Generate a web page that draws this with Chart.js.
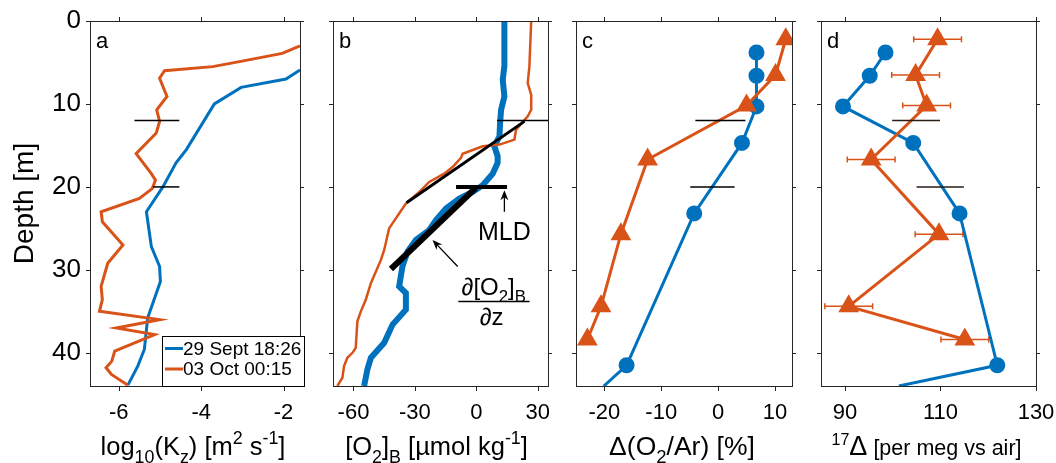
<!DOCTYPE html>
<html>
<head>
<meta charset="utf-8">
<script src="https://cdn.jsdelivr.net/npm/chart.js@4.4.1/dist/chart.umd.min.js"></script>
<style>
html, body { margin: 0; padding: 0; background: #fff; }
#wrap { position: relative; width: 1056px; height: 463px; overflow: hidden; }
#wrap canvas { position: absolute; left: 0; top: 0; }
</style>
</head>
<body>
<div id="wrap">
  <canvas id="panelA" width="1056" height="463"></canvas>
  <canvas id="panelB" width="1056" height="463"></canvas>
  <canvas id="panelC" width="1056" height="463"></canvas>
  <canvas id="panelD" width="1056" height="463"></canvas>
</div>
<script>
const FONT = '"Liberation Sans", Arial, Helvetica, sans-serif';
const BLUE = '#0072BD';
const ORANGE = '#D95319';
const AXIS = '#262626';
const TITLE_SIZE = 25.5;

// shared
const legendLabels = ['29 Sept 18:26', '03 Oct 00:15'];
const mldDepths = [12, 20];
const depthTicks = [0, 10, 20, 30, 40];

// panel a - log10(Kz)
const kzTicks = [-6, -4, -2];
const kzDepthSept = [5.9, 7.0, 8.0, 10.0, 15.5, 17.1, 20.0, 23.0, 27.2, 29.6, 31.4, 35.8, 39.6, 41.6, 43.9];
const kzSept = [-1.6, -1.94, -3.03, -3.68, -4.36, -4.61, -4.93, -5.33, -5.21, -5.01, -4.99, -5.30, -5.38, -5.54, -5.78];
const kzDepthOct = [3.0, 3.9, 4.9, 5.5, 6.0, 6.9, 9.1, 10.7, 12.1, 13.5, 16.0, 18.4, 19.2, 20.2, 21.4, 23.0, 24.2, 27.0, 29.2, 32.0, 33.6, 35.0, 36.0, 37.0, 37.8, 39.8, 41.0, 41.8, 42.6, 43.9];
const kzOct = [-1.6, -2.03, -3.07, -3.72, -4.89, -5.01, -4.83, -5.08, -5.01, -5.09, -5.58, -5.21, -5.11, -5.19, -5.5, -6.43, -6.40, -5.90, -6.27, -6.43, -6.40, -6.47, -5.01, -6.06, -5.13, -6.10, -6.17, -6.31, -6.18, -5.78];
const kzMld = [[-5.62, -4.53], [-5.17, -4.53]];

// panel b - [O2]B
const o2Ticks = [-60, -30, 0, 30];
const o2DepthSept = [0, 5.4, 7.1, 9.1, 10.7, 12.3, 13.9, 15.1, 16.3, 17.1, 18.4, 19.8, 20.6, 21.4, 22.6, 24.0, 25.2, 26.4, 27.8, 29.6, 32.0, 32.8, 34.8, 36.6, 38.8, 40.6, 42.0, 44];
const o2Sept = [13.7, 13.7, 12.9, 13.7, 12.1, 11.6, 11.3, 8.8, 10.4, 10.4, 8.0, 3.1, -1.8, -8.3, -14.8, -19.7, -23, -29.5, -33.6, -36.1, -37.7, -34.4, -34.4, -40.9, -45, -51.5, -53.2, -54.8];
const o2DepthOct = [0, 5.5, 7.5, 8.9, 10.7, 11.5, 13.1, 14.3, 14.9, 15.1, 16.0, 16.5, 17.6, 18.4, 19.4, 20.8, 22.0, 23.2, 25.0, 27.6, 28.8, 31.6, 33.6, 35.0, 36.2, 39.4, 40.0, 40.6, 41.6, 43.0, 44];
const o2Oct = [26.8, 25.9, 25.1, 26.8, 26.8, 25.1, 19.4, 18.6, 11.3, 3.1, -6.7, -7.5, -11.6, -15.7, -23, -28.7, -34.4, -37.7, -42.6, -45, -46.6, -51.5, -54, -56.4, -58.1, -58.9, -60.5, -63, -64.6, -65.4, -67.9];
const o2Mld = [[10.1, 35], [-9.9, 15]];
const gradOct = {depth: [21.9, 12.1], value: [-34.1, 23.5]};
const gradSept = {depth: [29.9, 20.1], value: [-41.7, -0.2]};

// panel c and d - bottle samples
const sampleDepthSept = [3.8, 6.6, 10.3, 14.7, 23.2, 41.5, 44];
const sampleDepthOct = [2.2, 6.5, 10.2, 16.7, 25.7, 34.4, 38.4];
const arTicks = [-20, -10, 0, 10];
const arSept = [6.75, 6.75, 6.75, 4.2, -4.2, -16.1, -20.1];
const arOct = [11.9, 10.1, 5.0, -12.4, -17.1, -20.6, -23.0];
const arMld = [[-4, 4.8], [-4.9, 2.9]];
const d17Ticks = [90, 110, 130];
const d17Sept = [98.5, 95.2, 89.6, 104.3, 114.0, 121.9, 101.3];
const d17Oct = [109.4, 104.8, 107.1, 95.5, 109.7, 90.8, 115.1];
const d17Err = [5, 5, 5, 5, 5, 5, 5];
const d17Mld = [[99.9, 109.9], [105, 114.9]];

function pts(values, depths) {
    return values.map((v, i) => ({x: v, y: depths[i]}));
}

function lineSet(values, depths, color, width, extra) {
    return Object.assign({
        data: pts(values, depths),
        showLine: true,
        borderColor: color,
        backgroundColor: color,
        borderWidth: width,
        pointRadius: 0,
        tension: 0
    }, extra || {});
}

function mldSets(ranges, color, widths) {
    return ranges.map((r, i) => lineSet(r, [mldDepths[i], mldDepths[i]], color, widths ? widths[i] : 1.5));
}

// markers on every sample except the last one of Sept (line leaves the axes there)
function markerSizes(depths, r, skipLast) {
    return depths.map((d, i) => (skipLast && i === depths.length - 1) ? 0 : r);
}

// text with sub / superscripts, centred on cx
function richText(ctx, parts, cx, baseY, size) {
    let w = 0;
    const items = parts.map(p => {
        const base = p[2] || size;
        const fs = p[1] ? base * 0.7 : base;
        ctx.font = fs + 'px ' + FONT;
        const iw = ctx.measureText(p[0]).width;
        w += iw;
        return {t: p[0], k: p[1], fs: fs, base: base, iw: iw};
    });
    let x = cx - w / 2;
    ctx.textAlign = 'left';
    ctx.textBaseline = 'alphabetic';
    items.forEach(it => {
        ctx.font = it.fs + 'px ' + FONT;
        let dy = 0;
        if (it.k === 'sub') dy = it.base * 0.3;
        if (it.k === 'sup') dy = -it.base * 0.42;
        ctx.fillText(it.t, x, baseY + dy);
        x += it.iw;
    });
}

function arrow(ctx, x1, y1, x2, y2) {
    const a = Math.atan2(y2 - y1, x2 - x1);
    ctx.beginPath();
    ctx.moveTo(x1, y1);
    ctx.lineTo(x2 - Math.cos(a) * 6, y2 - Math.sin(a) * 6);
    ctx.stroke();
    ctx.beginPath();
    ctx.moveTo(x2, y2);
    ctx.lineTo(x2 - Math.cos(a) * 10 + Math.sin(a) * 4, y2 - Math.sin(a) * 10 - Math.cos(a) * 4);
    ctx.lineTo(x2 - Math.cos(a) * 7, y2 - Math.sin(a) * 7);
    ctx.lineTo(x2 - Math.cos(a) * 10 - Math.sin(a) * 4, y2 - Math.sin(a) * 10 + Math.cos(a) * 4);
    ctx.closePath();
    ctx.fill();
}

// box with outward ticks on all four sides (matlab style)
const framePlugin = {
    id: 'frame',
    afterDraw(chart) {
        const ctx = chart.ctx, ca = chart.chartArea;
        const xs = chart.scales.x, ys = chart.scales.y;
        ctx.save();
        ctx.strokeStyle = AXIS;
        ctx.lineWidth = 1;
        ctx.strokeRect(Math.round(ca.left) + 0.5, Math.round(ca.top) + 0.5, Math.round(ca.right - ca.left), Math.round(ca.bottom - ca.top));
        ctx.beginPath();
        xs.ticks.forEach(t => {
            const px = Math.round(xs.getPixelForValue(t.value)) + 0.5;
            ctx.moveTo(px, ca.bottom); ctx.lineTo(px, ca.bottom + 5);
            ctx.moveTo(px, ca.top); ctx.lineTo(px, ca.top - 4);
        });
        ys.ticks.forEach(t => {
            const py = Math.round(ys.getPixelForValue(t.value)) + 0.5;
            ctx.moveTo(ca.left, py); ctx.lineTo(ca.left - 4, py);
            ctx.moveTo(ca.right, py); ctx.lineTo(ca.right + 4, py);
        });
        ctx.stroke();
        ctx.restore();
    }
};

function panelLetter(ctx, ca, letter) {
    ctx.fillStyle = '#000';
    ctx.font = '22px ' + FONT;
    ctx.textAlign = 'left';
    ctx.textBaseline = 'alphabetic';
    ctx.fillText(letter, ca.left + 6, ca.top + 27);
}

function makePanel(id, o) {
    return new Chart(document.getElementById(id), {
        type: 'scatter',
        data: {datasets: o.datasets},
        options: {
            responsive: false,
            animation: false,
            events: [],
            layout: {padding: {left: o.showY ? 0 : o.left, right: 1056 - o.right, top: 21, bottom: 0}},
            plugins: {legend: {display: false}, tooltip: {enabled: false}},
            scales: {
                x: {
                    type: 'linear', min: o.xMin, max: o.xMax,
                    ticks: {color: '#000', font: {family: FONT, size: 22}, padding: 14, maxRotation: 0, autoSkip: false},
                    afterBuildTicks: s => { s.ticks = o.xTicks.map(v => ({value: v})); },
                    grid: {display: false, drawTicks: false},
                    border: {display: false},
                    afterFit: s => { s.height = 77; s.paddingLeft = 0; s.paddingRight = 0; }
                },
                y: {
                    type: 'linear', reverse: true, min: 0, max: 44, display: !!o.showY,
                    ticks: {color: '#000', font: {family: FONT, size: 26}, padding: 9, autoSkip: false},
                    afterBuildTicks: s => { s.ticks = depthTicks.map(v => ({value: v})); },
                    grid: {display: false, drawTicks: false},
                    border: {display: false},
                    afterFit: s => { s.width = o.showY ? o.left : 0; s.paddingTop = 0; s.paddingBottom = 0; }
                }
            }
        },
        plugins: [framePlugin, o.extra]
    });
}

// ---- panel a ----
makePanel('panelA', {
    left: 90, right: 300, xMin: -6.7, xMax: -1.6, xTicks: kzTicks, showY: true,
    datasets: [
        ...mldSets(kzMld, '#000', [1.5, 1.5]),
        lineSet(kzOct, kzDepthOct, ORANGE, 3),
        lineSet(kzSept, kzDepthSept, BLUE, 3)
    ],
    extra: {
        id: 'extraA',
        afterDraw(chart) {
            const ctx = chart.ctx, ca = chart.chartArea;
            ctx.save();
            panelLetter(ctx, ca, 'a');
            // depth label
            ctx.translate(25, (ca.top + ca.bottom) / 2);
            ctx.rotate(-Math.PI / 2);
            ctx.font = '28px ' + FONT;
            ctx.textAlign = 'center';
            ctx.textBaseline = 'middle';
            ctx.fillText('Depth [m]', 0, 0);
            ctx.restore();
            ctx.save();
            ctx.fillStyle = '#000';
            richText(ctx, [['log', ''], ['10', 'sub'], ['(K', ''], ['z', 'sub'], [') [m', ''], ['2', 'sup'], [' s', ''], ['-1', 'sup'], [']', '']], (ca.left + ca.right) / 2 - 2, ca.bottom + 69, TITLE_SIZE);
            // legend
            const x0 = ca.right - 138, y0 = ca.bottom - 50;
            ctx.fillStyle = '#fff';
            ctx.fillRect(x0, y0, 142, 50);
            ctx.strokeStyle = '#000';
            ctx.lineWidth = 1;
            ctx.strokeRect(x0 + 0.5, y0 + 0.5, 142, 50);
            [BLUE, ORANGE].forEach((c, i) => {
                const cy = y0 + 12.5 + i * 20.5;
                ctx.strokeStyle = c;
                ctx.lineWidth = 3;
                ctx.beginPath();
                ctx.moveTo(x0 + 3, cy); ctx.lineTo(x0 + 21, cy);
                ctx.stroke();
                ctx.fillStyle = '#000';
                ctx.font = '19px ' + FONT;
                ctx.textAlign = 'left';
                ctx.textBaseline = 'middle';
                ctx.fillText(legendLabels[i], x0 + 21, cy + 1);
            });
            ctx.restore();
        }
    }
});

// ---- panel b ----
makePanel('panelB', {
    left: 333, right: 548, xMin: -70, xMax: 35, xTicks: o2Ticks,
    datasets: [
        lineSet([o2Mld[0][0], o2Mld[0][1]], [mldDepths[0], mldDepths[0]], '#000', 1.5),
        lineSet([o2Mld[1][0], o2Mld[1][1]], [mldDepths[1], mldDepths[1]], '#000', 4),
        lineSet(gradOct.value, gradOct.depth, '#000', 3),
        lineSet(gradSept.value, gradSept.depth, '#000', 6),
        lineSet(o2Oct, o2DepthOct, ORANGE, 2.5),
        lineSet(o2Sept, o2DepthSept, BLUE, 6)
    ],
    extra: {
        id: 'extraB',
        afterDraw(chart) {
            const ctx = chart.ctx, ca = chart.chartArea;
            const xs = chart.scales.x, ys = chart.scales.y;
            const X = v => xs.getPixelForValue(v), Y = d => ys.getPixelForValue(d);
            ctx.save();
            panelLetter(ctx, ca, 'b');
            richText(ctx, [['[O', ''], ['2', 'sub'], [']', ''], ['B', 'sub'], [' [µmol kg', ''], ['-1', 'sup'], [']', '']], (ca.left + ca.right) / 2 - 4, ca.bottom + 69, TITLE_SIZE);
            // annotations
            ctx.strokeStyle = '#000';
            ctx.fillStyle = '#000';
            ctx.lineWidth = 1.3;
            arrow(ctx, X(13.7), Y(23.0), X(13.7), Y(20.4));
            arrow(ctx, X(-9.1), Y(29.6), X(-21.4), Y(26.4));
            ctx.font = '25px ' + FONT;
            ctx.textAlign = 'center';
            ctx.textBaseline = 'alphabetic';
            ctx.fillText('MLD', X(13.7), Y(26.4));
            richText(ctx, [['∂[O', ''], ['2', 'sub'], [']', ''], ['B', 'sub']], X(8.5), Y(33.0), 24);
            ctx.lineWidth = 1.5;
            ctx.beginPath();
            ctx.moveTo(X(-8.8), Y(33.8)); ctx.lineTo(X(26), Y(33.8));
            ctx.stroke();
            richText(ctx, [['∂z', '']], X(7.5), Y(36.6), 24);
            ctx.restore();
        }
    }
});

// ---- panel c ----
makePanel('panelC', {
    left: 576, right: 792, xMin: -25, xMax: 13, xTicks: arTicks,
    datasets: [
        ...mldSets(arMld, '#000'),
        lineSet(arOct, sampleDepthOct, ORANGE, 3, {pointStyle: 'triangle', pointRadius: 9}),
        lineSet(arSept, sampleDepthSept, BLUE, 3, {pointStyle: 'circle', pointRadius: markerSizes(sampleDepthSept, 6.5, true)})
    ],
    extra: {
        id: 'extraC',
        afterDraw(chart) {
            const ctx = chart.ctx, ca = chart.chartArea;
            ctx.save();
            panelLetter(ctx, ca, 'c');
            richText(ctx, [['Δ(O', ''], ['2', 'sub'], ['/Ar) [%]', '']], (ca.left + ca.right) / 2 - 2, ca.bottom + 69, TITLE_SIZE + 1);
            ctx.restore();
        }
    }
});

// ---- panel d ----
makePanel('panelD', {
    left: 821, right: 1036, xMin: 85, xMax: 130, xTicks: d17Ticks,
    datasets: [
        ...mldSets(d17Mld, '#2a1d16'),
        lineSet(d17Oct, sampleDepthOct, ORANGE, 3, {pointStyle: 'triangle', pointRadius: 9}),
        lineSet(d17Sept, sampleDepthSept, BLUE, 3, {pointStyle: 'circle', pointRadius: markerSizes(sampleDepthSept, 6.5, true)})
    ],
    extra: {
        id: 'extraD',
        beforeDatasetsDraw(chart) {
            const ctx = chart.ctx;
            const xs = chart.scales.x, ys = chart.scales.y;
            ctx.save();
            ctx.strokeStyle = ORANGE;
            ctx.lineWidth = 1.5;
            ctx.beginPath();
            d17Oct.forEach((v, i) => {
                const y = ys.getPixelForValue(sampleDepthOct[i]);
                const x1 = xs.getPixelForValue(v - d17Err[i]), x2 = xs.getPixelForValue(v + d17Err[i]);
                ctx.moveTo(x1, y); ctx.lineTo(x2, y);
                ctx.moveTo(x1, y - 3); ctx.lineTo(x1, y + 3);
                ctx.moveTo(x2, y - 3); ctx.lineTo(x2, y + 3);
            });
            ctx.stroke();
            ctx.restore();
        },
        afterDraw(chart) {
            const ctx = chart.ctx, ca = chart.chartArea;
            ctx.save();
            panelLetter(ctx, ca, 'd');
            richText(ctx, [['17', 'sup', 23], ['Δ', '', 27], [' [per meg vs air]', '', 21.5]], (ca.left + ca.right) / 2 - 2, ca.bottom + 69, TITLE_SIZE);
            ctx.restore();
        }
    }
});
</script>
</body>
</html>
